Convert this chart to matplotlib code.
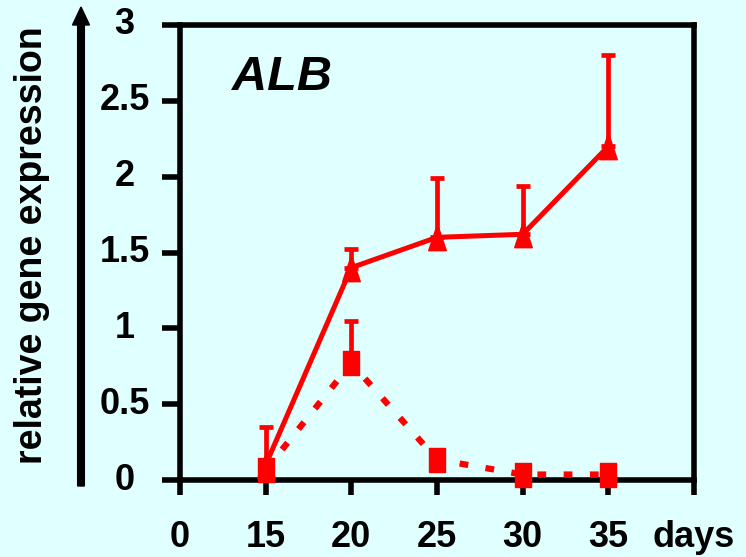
import matplotlib
matplotlib.use("Agg")
import matplotlib.pyplot as plt
from matplotlib.path import Path
import numpy as np

# Data
day_labels = ["0", "15", "20", "25", "30", "35", "days"]
days = [15, 20, 25, 30, 35]
solid_vals = [0.10, 1.40, 1.60, 1.62, 2.20]      # triangles, solid line
solid_err_up = [0.25, 0.12, 0.39, 0.32, 0.60]
dotted_vals = [0.066, 0.77, 0.135, 0.036, 0.036]  # squares, dotted line
dotted_err_up = [0.0, 0.28, 0.0, 0.0, 0.0]

BG = "#E0FFFF"
RED = "#FF0000"
FONT = "Liberation Sans"

W, H = 746, 557
fig = plt.figure(figsize=(W / 100, H / 100), dpi=100, facecolor=BG)
ax = fig.add_axes([180 / W, 1 - 480 / H, (694 - 180) / W, (480 - 25) / H])
ax.set_facecolor(BG)

# map day values onto evenly spaced category slots (0 occupies slot 0)
slot = {d: i for i, d in enumerate([0] + days)}
x = np.array([slot[d] for d in days], dtype=float)

tri = Path([(0, 1.5), (-1, -1.5), (1, -1.5), (0, 1.5)],
           [Path.MOVETO, Path.LINETO, Path.LINETO, Path.CLOSEPOLY])
rect = Path([(-1, -1.5), (1, -1.5), (1, 1.5), (-1, 1.5), (-1, -1.5)],
            [Path.MOVETO, Path.LINETO, Path.LINETO, Path.LINETO, Path.CLOSEPOLY])

# dotted series
ax.errorbar(x, dotted_vals, yerr=[np.zeros(5), dotted_err_up], fmt="none",
            ecolor=RED, elinewidth=3.4, capsize=5, capthick=3.4, clip_on=False, zorder=2)
ln, = ax.plot(x, dotted_vals, color=RED, lw=4.5, solid_capstyle="butt",
              dash_capstyle="butt", clip_on=False, zorder=3)
ln.set_dashes((1.4, 2.8))
ax.plot(x, dotted_vals, ls="none", marker=rect, ms=18, color=RED,
        clip_on=False, zorder=4)

# solid series
ax.errorbar(x, solid_vals, yerr=[np.zeros(5), solid_err_up], fmt="none",
            ecolor=RED, elinewidth=3.4, capsize=5, capthick=3.4, clip_on=False, zorder=2)
ax.plot(x, solid_vals, color=RED, lw=3.6, clip_on=False, zorder=3)
ax.plot(x, solid_vals, ls="none", marker=tri, ms=19, color=RED,
        clip_on=False, zorder=4)

ax.set_xlim(0, 6)
ax.set_ylim(0, 3)
ax.set_xticks(range(7))
ax.set_xticklabels(day_labels)
ax.set_yticks([0, 0.5, 1, 1.5, 2, 2.5, 3])
ax.set_yticklabels(["0", "0.5", "1", "1.5", "2", "2.5", "3"])

for s in ax.spines.values():
    s.set_linewidth(4)
    s.set_color("black")

ax.tick_params(axis="x", direction="out", length=11, width=4, pad=18,
               labelsize=26)
ax.tick_params(axis="y", direction="out", length=13, width=4, pad=27,
               labelsize=26)
for lab in ax.get_xticklabels() + ax.get_yticklabels():
    lab.set_fontfamily(FONT)
    lab.set_fontweight("bold")
for lab in ax.get_yticklabels():
    lab.set_horizontalalignment("center")
    lab.set_verticalalignment("center")

ax.text(232 / W, 1 - 90 / H, "ALB", transform=fig.transFigure,
        fontsize=35, fontweight="bold", fontstyle="italic", family=FONT,
        ha="left", va="baseline")

fig.text(32 / W, 1 - 245 / H, "relative gene expression", rotation=90,
         fontsize=27, fontweight="bold", family=FONT, ha="center", va="center")

fig.patches.append(matplotlib.patches.FancyArrow(
    81 / W, 1 - 486 / H, 0, (486 - 25) / H, width=5 / H, head_width=17 / W,
    head_length=18 / H, length_includes_head=False, color="black",
    transform=fig.transFigure, figure=fig))

fig.savefig("out.png", dpi=100, facecolor=BG)
